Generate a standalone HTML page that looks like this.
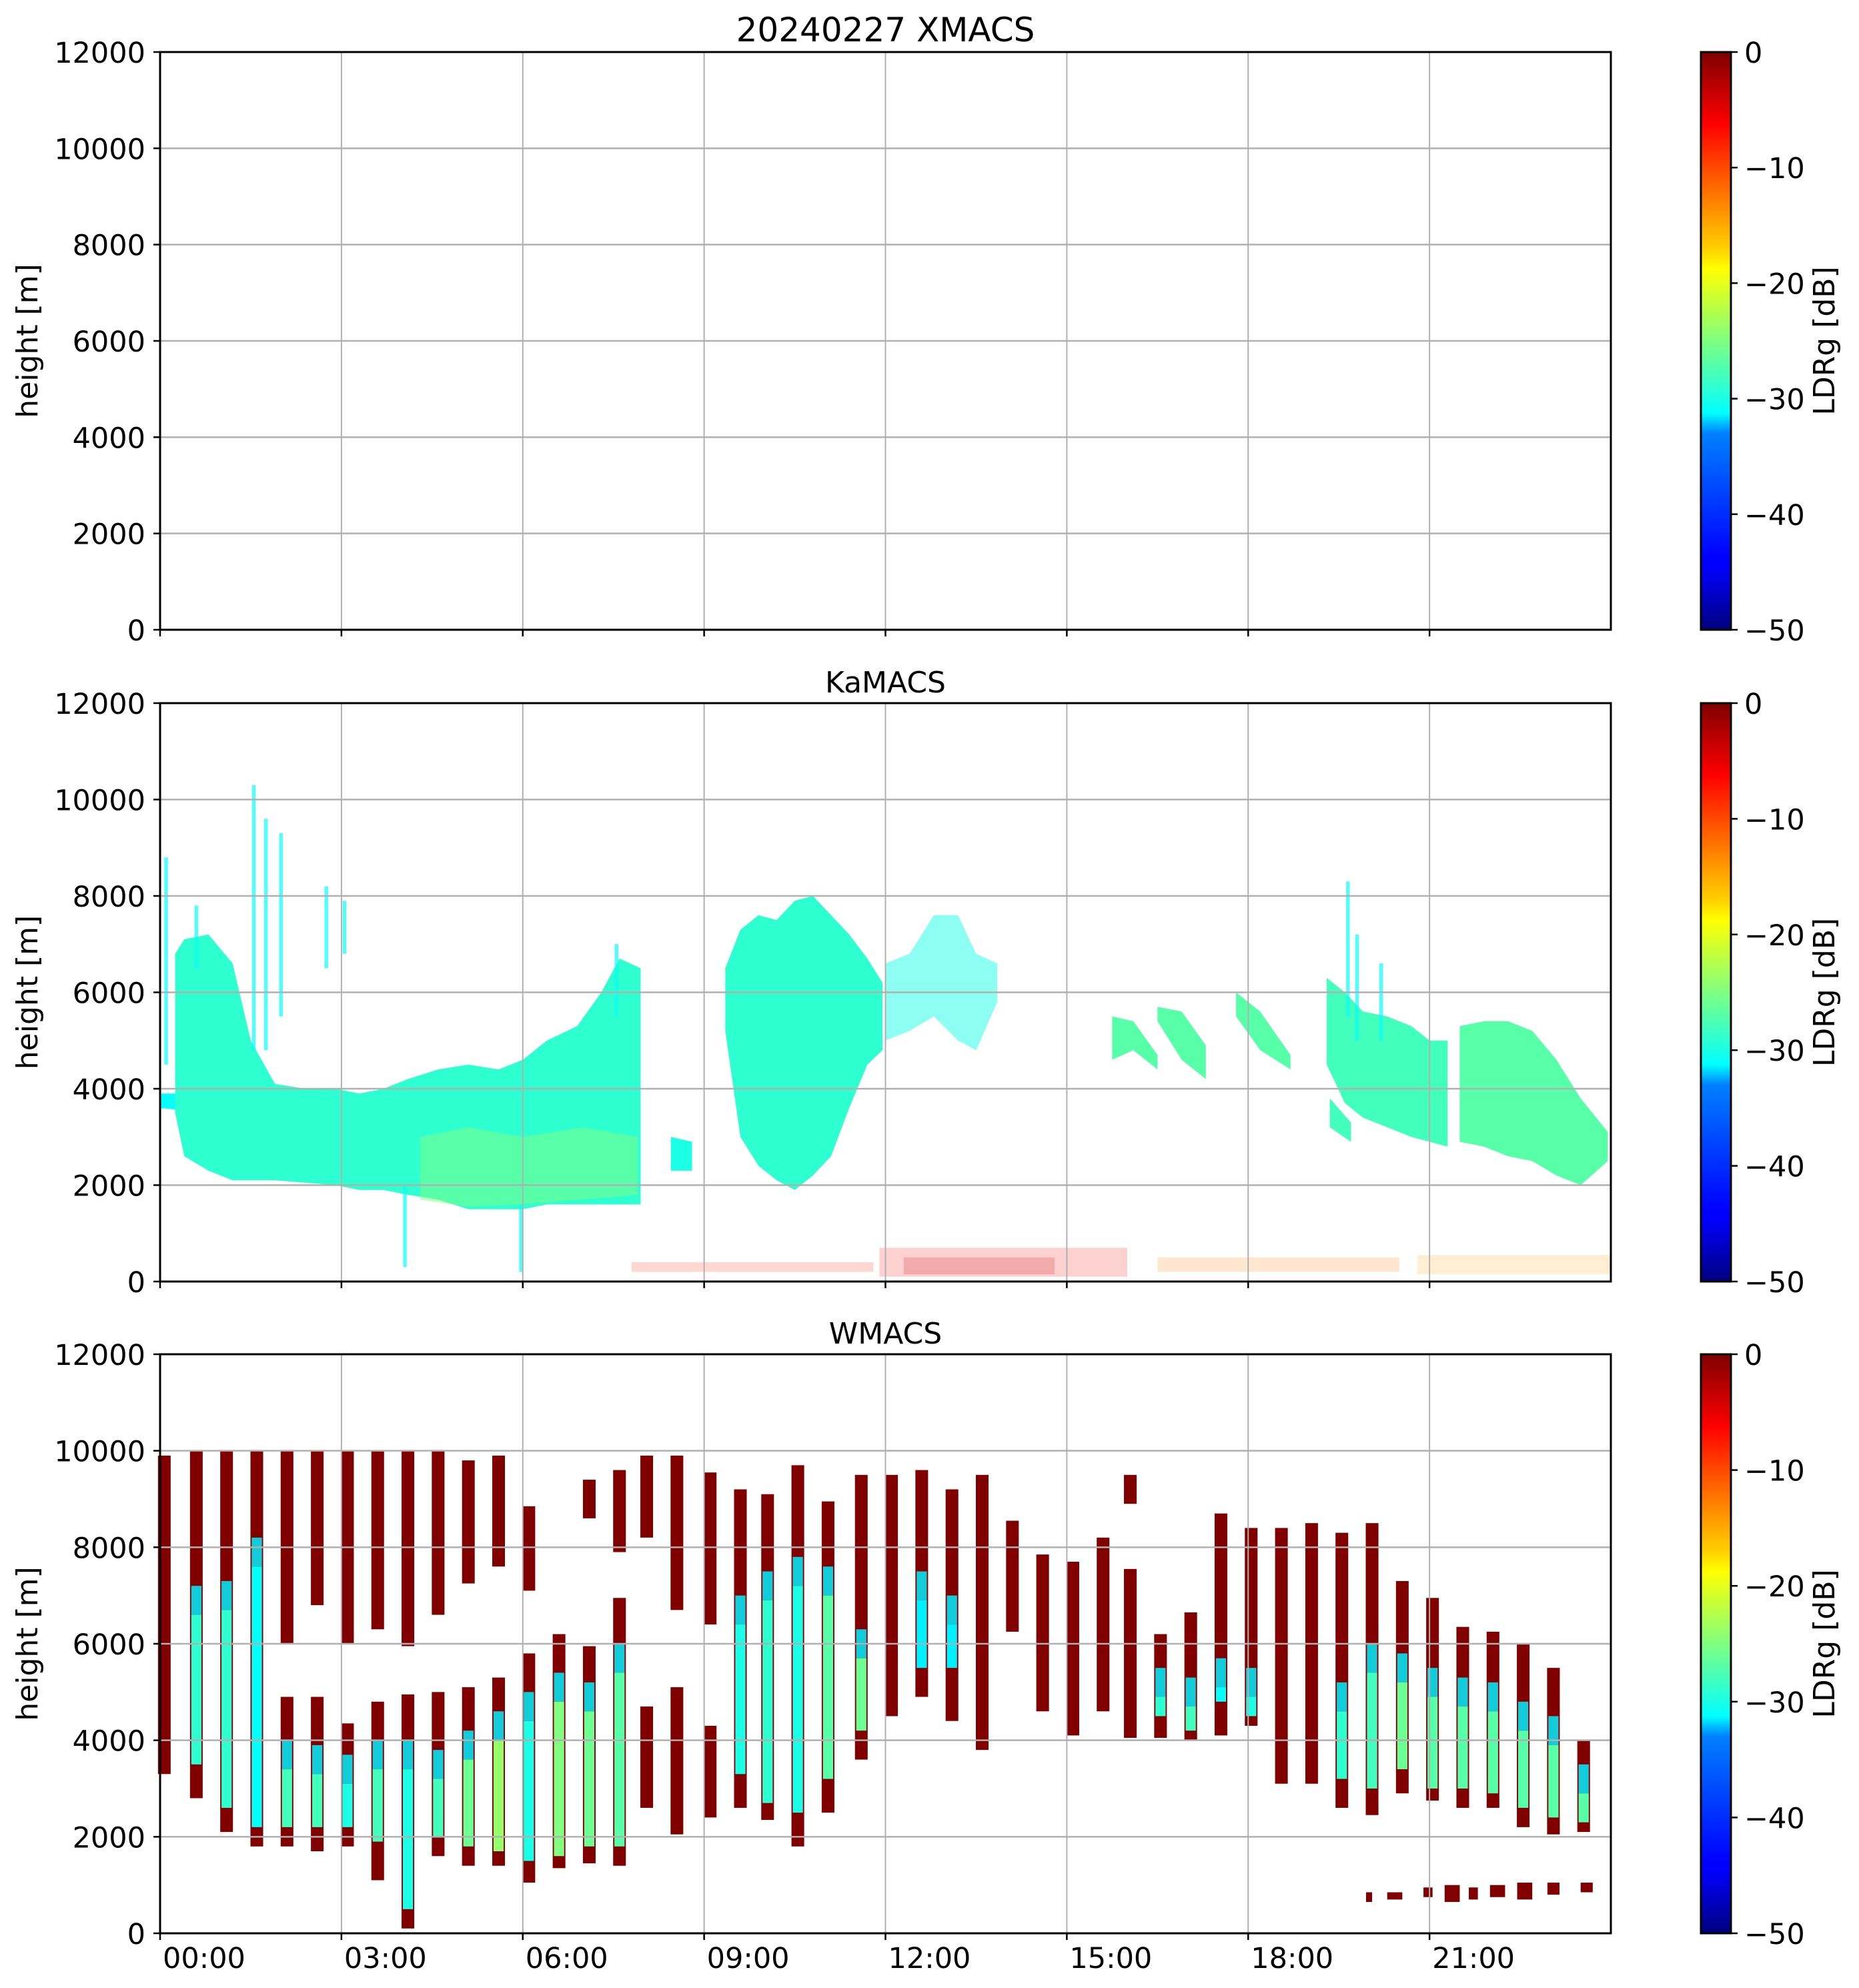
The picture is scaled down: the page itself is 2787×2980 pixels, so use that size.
<!DOCTYPE html>
<html><head><meta charset="utf-8"><style>
html,body{margin:0;padding:0;background:#fff}
svg{display:block;font-family:"DejaVu Sans","Liberation Sans",sans-serif}
</style></head><body>
<svg id="fig" xmlns="http://www.w3.org/2000/svg" width="2787" height="2980" viewBox="0 0 2787 2980">
<defs>
<linearGradient id="jet" x1="0" y1="1" x2="0" y2="0">
<stop offset="0" stop-color="#00007f"/><stop offset="0.11" stop-color="#0000ff"/><stop offset="0.125" stop-color="#0000ff"/>
<stop offset="0.34" stop-color="#0080ff"/><stop offset="0.375" stop-color="#00ffff"/><stop offset="0.5" stop-color="#7fff7f"/>
<stop offset="0.625" stop-color="#ffff00"/><stop offset="0.66" stop-color="#ffd000"/><stop offset="0.875" stop-color="#ff0000"/><stop offset="1" stop-color="#7f0000"/>
</linearGradient>
</defs>
</svg>
<script>
// ---- data ----
const hourTicks=[0,3,6,9,12,15,18,21];
const hourLabels=["00:00","03:00","06:00","09:00","12:00","15:00","18:00","21:00"];
const heightTicks=[0,2000,4000,6000,8000,10000,12000];
const cbarTicks=[0,-10,-20,-30,-40,-50];
const panelTitles=["20240227 XMACS","KaMACS","WMACS"];

// KaMACS clouds: [hour, base km, top km]
const kaCloudStub=[[0,3.6,3.9],[0.4,3.55,3.9]];
const kaCloudB=[[0.25,3.5,6.8],[0.4,2.6,7.1],[0.8,2.3,7.2],[1.2,2.1,6.6],[1.5,2.1,5.0],[1.9,2.1,4.1],[2.4,2.05,4.0],[2.9,2.0,4.0],[3.3,1.9,3.9],[3.7,1.9,4.0],[4.1,1.8,4.2],[4.6,1.7,4.4],[5.1,1.5,4.5],[5.6,1.5,4.4],[6.0,1.5,4.6],[6.4,1.6,5.0],[6.9,1.6,5.3],[7.3,1.6,6.0],[7.6,1.6,6.7],[7.95,1.6,6.5]];
const kaCloudBGreen=[[4.3,1.7,3.0],[5.1,1.55,3.2],[6.0,1.6,3.0],[7.0,1.7,3.2],[7.9,1.8,3.0]];
const kaCloudSmall=[[8.45,2.3,3.0],[8.8,2.3,2.9]];
const kaCloudC=[[9.35,5.2,6.5],[9.6,3.0,7.3],[9.9,2.4,7.6],[10.2,2.1,7.5],[10.5,1.9,7.9],[10.8,2.2,8.0],[11.1,2.6,7.6],[11.4,3.6,7.2],[11.7,4.5,6.7],[11.95,4.8,6.2]];
const kaCloudD=[[12.0,5.0,6.6],[12.4,5.2,6.8],[12.8,5.5,7.6],[13.2,5.0,7.6],[13.5,4.8,6.8],[13.85,5.8,6.6]];
const kaCloudE1=[[15.75,4.6,5.5],[16.1,4.8,5.4],[16.5,4.4,4.7]];
const kaCloudE2=[[16.5,5.4,5.7],[16.9,4.6,5.6],[17.3,4.2,4.9]];
const kaCloudE3=[[17.8,5.5,6.0],[18.2,4.8,5.6],[18.7,4.4,4.7]];
const kaCloudF=[[19.3,4.5,6.3],[19.6,3.7,6.0],[19.9,3.4,5.6],[20.3,3.2,5.5],[20.7,3.0,5.3],[21.0,2.9,5.0],[21.3,2.8,5.0]];
const kaCloudF2=[[19.35,3.2,3.8],[19.7,2.9,3.3]];
const kaCloudG=[[21.5,2.9,5.3],[21.9,2.8,5.4],[22.3,2.6,5.4],[22.7,2.5,5.2],[23.1,2.2,4.6],[23.5,2.0,3.8],[23.95,2.5,3.1]];
const kaCloudLdr=[-31,-29,-25,-30,-29,-30,-27,-27,-27,-28,-28,-27];
// KaMACS streaks: hour, bottom km, top km
const kaStreakT=[0.1,0.6,1.55,1.75,2.0,2.75,3.05,4.05,5.97,7.55,19.65,19.8,20.2];
const kaStreakBot=[4.5,6.5,4.8,4.8,5.5,6.5,6.8,0.3,0.2,5.5,5.5,5.0,5.0];
const kaStreakTop=[8.8,7.8,10.3,9.6,9.3,8.2,7.9,2.0,1.6,7.0,8.3,7.2,6.6];
// low-level speckle regions: t0, t1, h0, h1, ldr
const kaSpeckle=[[11.9,16.0,0.1,0.7,-6],[12.3,14.8,0.15,0.5,-3],[16.5,20.5,0.2,0.5,-12],[20.8,24,0.15,0.55,-14],[7.8,11.8,0.2,0.4,-8]];

// WMACS stripes
const wStripeT=[0.07,0.6,1.1,1.6,2.1,2.6,3.1,3.6,4.1,4.6,5.1,5.6,6.1,6.6,7.1,7.6,8.05,8.55,9.1,9.6,10.05,10.55,11.05,11.6,12.1,12.6,13.1,13.6,14.1,14.6,15.1,15.6,16.05,16.55,17.05,17.55,18.05,18.55,19.05,19.55,20.05,20.55,21.05,21.55,22.05,22.55,23.05,23.55];
const wRedTop=[9.9,10,10,10,10,10,10,10,10,10,9.8,9.9,8.85,6.2,9.4,9.6,9.9,9.9,9.55,9.2,9.1,9.7,8.95,9.5,9.5,9.6,9.2,9.5,8.55,7.85,7.7,8.2,9.5,6.2,6.65,8.7,8.4,8.4,8.5,8.3,8.5,7.3,6.95,6.35,6.25,6.0,5.5,4.0];
const wRedBot=[3.3,2.8,2.1,1.8,1.8,1.7,1.8,1.1,0.1,1.6,1.4,1.4,1.05,1.35,1.45,1.4,2.6,2.05,2.4,2.6,2.35,1.8,2.5,3.6,4.5,4.9,4.4,3.8,6.25,4.6,4.1,4.6,4.05,4.05,4.0,4.1,4.3,3.1,3.1,2.6,2.45,2.9,2.75,2.6,2.6,2.2,2.05,2.1];
const wGapTop=[0,0,0,0,6.0,6.8,6.0,6.3,5.95,6.6,7.25,7.6,7.1,0,8.6,7.9,8.2,6.7,6.4,0,0,0,0,0,0,0,0,0,0,0,0,0,8.9,0,0,0,0,0,0,0,0,0,0,0,0,0,0,0];
const wGapBot=[0,0,0,0,4.9,4.9,4.35,4.8,4.95,5.0,5.1,5.3,5.8,0,5.95,6.95,4.7,5.1,4.3,0,0,0,0,0,0,0,0,0,0,0,0,0,7.55,0,0,0,0,0,0,0,0,0,0,0,0,0,0,0];
const wGreenTop=[0,7.2,7.3,8.2,4.0,3.9,3.7,4.0,4.0,3.8,4.2,4.6,5.0,5.4,5.2,6.0,0,0,0,7.0,7.5,7.8,7.6,6.3,0,7.5,7.0,0,0,0,0,0,0,5.5,5.3,5.7,5.5,0,0,5.2,6.0,5.8,5.5,5.3,5.2,4.8,4.5,3.5];
const wGreenBot=[0,3.5,2.6,2.2,2.2,2.2,2.2,1.9,0.5,2.0,1.8,1.7,1.5,1.6,1.8,1.8,0,0,0,3.3,2.7,2.5,3.2,4.2,0,5.5,5.5,0,0,0,0,0,0,4.5,4.2,4.8,4.5,0,0,3.2,3.0,3.4,3.0,3.0,2.9,2.6,2.4,2.3];
const wGreenLdr=[-30,-29,-29,-31,-28,-28,-30,-28,-30,-28,-26,-24,-30,-25,-26,-27,-30,-30,-30,-30,-29,-30,-27,-26,-30,-32,-32,-30,-30,-30,-30,-30,-30,-29,-28,-31,-30,-30,-30,-29,-28,-26,-27,-27,-27,-27,-27,-27];
// WMACS low-level blocks: t0,t1,h0,h1
const wLowBlocks=[[19.95,20.05,0.65,0.85],[20.3,20.55,0.7,0.85],[20.9,21.05,0.75,0.95],[21.25,21.5,0.65,1.0],[21.65,21.8,0.7,0.95],[22.0,22.25,0.75,1.0],[22.45,22.7,0.7,1.05],[22.95,23.15,0.8,1.05],[23.5,23.7,0.85,1.05]];

// ---- layout ----
const NS="http://www.w3.org/2000/svg";
const svg=document.getElementById('fig');
const X0=240,X1=2415;
const panels=[[78,944],[1054,1921],[2030,2898]];
const CB0=2550,CB1=2595;
function xs(h){return X0+(X1-X0)*h/24;}
function mk(tag,attrs,parent){const e=document.createElementNS(NS,tag);for(const k in attrs)e.setAttribute(k,attrs[k]);(parent||svg).appendChild(e);return e;}
function jet(v){let x=(v+50)/50;x=Math.max(0,Math.min(1,x));
 const c=t=>Math.round(255*Math.max(0,Math.min(1,t)));
 return `rgb(${c(1.5-Math.abs(4*x-3))},${c(1.5-Math.abs(4*x-2))},${c(1.5-Math.abs(4*x-1))})`;}

panels.forEach((p,pi)=>{
 const [T,B]=p;
 const ys=km=>B-(B-T)*km/12;
 const g=mk('g',{});
 
 
 const data=mk('g',{},g);
 
 
 function cloud(arr,ldr,op,name){
  let d='M'+arr.map(r=>xs(r[0])+','+ys(r[2])).join('L');
  d+='L'+arr.slice().reverse().map(r=>xs(r[0])+','+ys(r[1])).join('L')+'Z';
  const e=mk('path',{d:d,fill:jet(ldr),'fill-opacity':op},data);
  
  
 }
 function box(t0,t1,h0,h1,ldr,op,name){
  const e=mk('rect',{x:xs(t0),y:ys(h1),width:Math.max(1,xs(t1)-xs(t0)),height:Math.max(1,ys(h0)-ys(h1)),fill:jet(ldr),'fill-opacity':op},data);
  
  
 }
 if(pi===1){
  const clouds=[kaCloudStub,kaCloudB,kaCloudBGreen,kaCloudSmall,kaCloudC,kaCloudD,kaCloudE1,kaCloudE2,kaCloudE3,kaCloudF,kaCloudF2,kaCloudG];
  clouds.forEach((c,i)=>cloud(c,kaCloudLdr[i],i===5?0.5:(i===2?0.5:1),'ka-cloud-'+i));
  kaStreakT.forEach((t,i)=>box(t-0.03,t+0.03,kaStreakBot[i],kaStreakTop[i],-31,0.7,'ka-streak'));
  kaSpeckle.forEach(s=>box(s[0],s[1],s[2],s[3],s[4],0.18,'ka-speckle'));
 }
 if(pi===2){
  const w=0.105;
  wStripeT.forEach((t,i)=>{
   box(t-w,t+w,wRedBot[i],wRedTop[i],0,1,'w-stripe-red');
   if(wGapTop[i]>0){
    const e=mk('rect',{x:xs(t-w)-1,y:ys(wGapTop[i]),width:xs(t+w)-xs(t-w)+2,height:ys(wGapBot[i])-ys(wGapTop[i]),fill:'#fff'},data);
    
    
   }
   if(wGreenTop[i]>0){
    const split=Math.max(wGreenTop[i]-0.6,wGreenBot[i]);
    box(t-w*0.8,t+w*0.8,split,wGreenTop[i],-32,0.85,'w-stripe-cyan');
    box(t-w*0.8,t+w*0.8,wGreenBot[i],split,wGreenLdr[i],1,'w-stripe-green');
   }
  });
  wLowBlocks.forEach(s=>box(s[0],s[1],s[2],s[3],0,1,'w-low-block'));
 }
 // grid
 hourTicks.forEach((h,i)=>{ if(i>0){const l=mk('line',{x1:xs(h),x2:xs(h),y1:T,y2:B,stroke:'#b0b0b0','stroke-width':2},g);
  
  }});
 heightTicks.forEach(v=>{const l=mk('line',{x1:X0,x2:X1,y1:ys(v/1000),y2:ys(v/1000),stroke:'#b0b0b0','stroke-width':2.5},g);
  
  
  const tk=mk('line',{x1:X0-10,x2:X0,y1:ys(v/1000),y2:ys(v/1000),stroke:'#000','stroke-width':2.5},g);
  
  
  const tx=mk('text',{x:218,y:ys(v/1000)+16,'text-anchor':'end','font-size':43},g);tx.textContent=v;
  
  
 });
 hourTicks.forEach(h=>{const tk=mk('line',{x1:xs(h),x2:xs(h),y1:B,y2:B+10,stroke:'#000','stroke-width':2.5},g);
  
  });
 const frame=mk('rect',{x:X0,y:T,width:X1-X0,height:B-T,fill:'none',stroke:'#000','stroke-width':3},g);
 
 
 const ttl=mk('text',{x:(X0+X1)/2,y:pi===0?62:T-16,'text-anchor':'middle','font-size':pi===0?50:44},g);ttl.textContent=panelTitles[pi];
 
 
 const yl=mk('text',{x:0,y:0,'text-anchor':'middle','font-size':44,transform:`translate(56,${(T+B)/2}) rotate(-90)`},g);yl.textContent='height [m]';
 
 
 // colorbar
 const cb=mk('rect',{x:CB0,y:T,width:CB1-CB0,height:B-T,fill:'url(#jet)',stroke:'#000','stroke-width':3},g);
 
 
 cbarTicks.forEach(v=>{const y=B-(B-T)*(v+50)/50;
  const tk=mk('line',{x1:CB1,x2:CB1+10,y1:y,y2:y,stroke:'#000','stroke-width':2.5},g);
  
  
  const tx=mk('text',{x:CB1+20,y:y+16,'font-size':43},g);tx.textContent=v===0?'0':'\u2212'+(-v);
  
  
 });
 const cl=mk('text',{x:0,y:0,'text-anchor':'middle','font-size':44,transform:`translate(2750,${(T+B)/2}) rotate(-90)`},g);cl.textContent='LDRg [dB]';
 
 
 if(pi===2){
  hourTicks.forEach((h,i)=>{const tx=mk('text',{x:xs(h)+4,y:2950,'font-size':43},g);tx.textContent=hourLabels[i];
   
   });
 }
});
</script>
</body></html>
